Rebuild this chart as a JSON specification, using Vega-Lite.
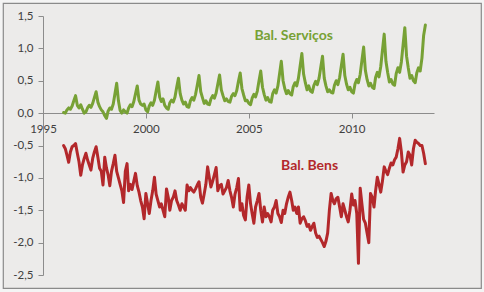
{
  "$schema": "https://vega.github.io/schema/vega-lite/v6.json",
  "width": 478,
  "height": 285,
  "autosize": {"type": "none"},
  "padding": {"left": 3, "top": 3, "right": 3, "bottom": 4},
  "background": "#f4f4f4",
  "config": {
    "view": {"fill": "#ecebea", "stroke": "#8a8a8a", "strokeWidth": 1.2},
    "font": "Lato",
    "axis": {"labelFont": "Lato", "labelFontSize": 11.5, "labelColor": "#404040", "domainColor": "#8c8c8c", "tickColor": "#8c8c8c", "grid": false, "title": null}
  },
  "data": {"values": [
    {"d":"1996-01","s":0.01,"b":-0.5},{"d":"1996-02","s":0.0,"b":-0.55},{"d":"1996-03","s":0.05,"b":-0.65},{"d":"1996-04","s":0.08,"b":-0.76},{"d":"1996-05","s":0.06,"b":-0.6},{"d":"1996-06","s":0.11,"b":-0.52},{"d":"1996-07","s":0.19,"b":-0.5},{"d":"1996-08","s":0.27,"b":-0.47},{"d":"1996-09","s":0.12,"b":-0.62},{"d":"1996-10","s":0.08,"b":-0.75},{"d":"1996-11","s":0.13,"b":-0.96},{"d":"1996-12","s":0.06,"b":-0.8},
    {"d":"1997-01","s":0.0,"b":-0.7},{"d":"1997-02","s":0.02,"b":-0.62},{"d":"1997-03","s":0.08,"b":-0.72},{"d":"1997-04","s":0.12,"b":-0.8},{"d":"1997-05","s":0.09,"b":-0.88},{"d":"1997-06","s":0.15,"b":-0.7},{"d":"1997-07","s":0.24,"b":-0.6},{"d":"1997-08","s":0.33,"b":-0.52},{"d":"1997-09","s":0.17,"b":-0.68},{"d":"1997-10","s":0.1,"b":-0.85},{"d":"1997-11","s":0.05,"b":-0.9},{"d":"1997-12","s":0.02,"b":-1.11},
    {"d":"1998-01","s":-0.04,"b":-0.68},{"d":"1998-02","s":-0.08,"b":-0.85},{"d":"1998-03","s":0.03,"b":-0.95},{"d":"1998-04","s":0.08,"b":-1.12},{"d":"1998-05","s":0.06,"b":-0.9},{"d":"1998-06","s":0.14,"b":-0.78},{"d":"1998-07","s":0.3,"b":-0.65},{"d":"1998-08","s":0.46,"b":-0.9},{"d":"1998-09","s":0.19,"b":-1.0},{"d":"1998-10","s":0.04,"b":-1.1},{"d":"1998-11","s":0.0,"b":-1.2},{"d":"1998-12","s":0.05,"b":-1.38},
    {"d":"1999-01","s":0.02,"b":-0.9},{"d":"1999-02","s":0.0,"b":-0.78},{"d":"1999-03","s":0.08,"b":-1.2},{"d":"1999-04","s":0.13,"b":-1.1},{"d":"1999-05","s":0.1,"b":-1.18},{"d":"1999-06","s":0.18,"b":-1.05},{"d":"1999-07","s":0.3,"b":-0.93},{"d":"1999-08","s":0.42,"b":-1.12},{"d":"1999-09","s":0.2,"b":-1.22},{"d":"1999-10","s":0.14,"b":-1.35},{"d":"1999-11","s":0.12,"b":-1.45},{"d":"1999-12","s":0.14,"b":-1.63},
    {"d":"2000-01","s":0.05,"b":-1.24},{"d":"2000-02","s":0.02,"b":-1.4},{"d":"2000-03","s":0.11,"b":-1.55},{"d":"2000-04","s":0.16,"b":-1.35},{"d":"2000-05","s":0.12,"b":-1.2},{"d":"2000-06","s":0.2,"b":-0.99},{"d":"2000-07","s":0.34,"b":-1.25},{"d":"2000-08","s":0.48,"b":-1.35},{"d":"2000-09","s":0.25,"b":-1.45},{"d":"2000-10","s":0.18,"b":-1.4},{"d":"2000-11","s":0.22,"b":-1.5},{"d":"2000-12","s":0.12,"b":-1.6},
    {"d":"2001-01","s":0.08,"b":-1.17},{"d":"2001-02","s":0.06,"b":-1.3},{"d":"2001-03","s":0.16,"b":-1.5},{"d":"2001-04","s":0.2,"b":-1.35},{"d":"2001-05","s":0.17,"b":-1.3},{"d":"2001-06","s":0.25,"b":-1.2},{"d":"2001-07","s":0.4,"b":-1.35},{"d":"2001-08","s":0.54,"b":-1.42},{"d":"2001-09","s":0.3,"b":-1.5},{"d":"2001-10","s":0.2,"b":-1.4},{"d":"2001-11","s":0.14,"b":-1.45},{"d":"2001-12","s":0.17,"b":-1.5},
    {"d":"2002-01","s":0.1,"b":-1.11},{"d":"2002-02","s":0.09,"b":-1.2},{"d":"2002-03","s":0.19,"b":-1.15},{"d":"2002-04","s":0.24,"b":-1.19},{"d":"2002-05","s":0.2,"b":-1.22},{"d":"2002-06","s":0.29,"b":-1.17},{"d":"2002-07","s":0.43,"b":-1.11},{"d":"2002-08","s":0.58,"b":-1.06},{"d":"2002-09","s":0.33,"b":-1.3},{"d":"2002-10","s":0.24,"b":-1.39},{"d":"2002-11","s":0.15,"b":-1.25},{"d":"2002-12","s":0.19,"b":-1.1},
    {"d":"2003-01","s":0.14,"b":-0.83},{"d":"2003-02","s":0.13,"b":-1.0},{"d":"2003-03","s":0.22,"b":-1.14},{"d":"2003-04","s":0.27,"b":-1.05},{"d":"2003-05","s":0.23,"b":-0.95},{"d":"2003-06","s":0.31,"b":-0.84},{"d":"2003-07","s":0.45,"b":-1.2},{"d":"2003-08","s":0.59,"b":-1.12},{"d":"2003-09","s":0.36,"b":-1.1},{"d":"2003-10","s":0.27,"b":-1.25},{"d":"2003-11","s":0.19,"b":-1.2},{"d":"2003-12","s":0.22,"b":-1.15},
    {"d":"2004-01","s":0.18,"b":-1.04},{"d":"2004-02","s":0.17,"b":-1.2},{"d":"2004-03","s":0.26,"b":-1.3},{"d":"2004-04","s":0.3,"b":-1.45},{"d":"2004-05","s":0.27,"b":-1.25},{"d":"2004-06","s":0.35,"b":-1.15},{"d":"2004-07","s":0.49,"b":-1.01},{"d":"2004-08","s":0.62,"b":-1.5},{"d":"2004-09","s":0.38,"b":-1.4},{"d":"2004-10","s":0.28,"b":-1.58},{"d":"2004-11","s":0.19,"b":-1.65},{"d":"2004-12","s":0.2,"b":-1.3},
    {"d":"2005-01","s":0.15,"b":-1.11},{"d":"2005-02","s":0.13,"b":-1.4},{"d":"2005-03","s":0.23,"b":-1.55},{"d":"2005-04","s":0.29,"b":-1.7},{"d":"2005-05","s":0.25,"b":-1.45},{"d":"2005-06","s":0.34,"b":-1.35},{"d":"2005-07","s":0.5,"b":-1.24},{"d":"2005-08","s":0.65,"b":-1.5},{"d":"2005-09","s":0.4,"b":-1.68},{"d":"2005-10","s":0.29,"b":-1.45},{"d":"2005-11","s":0.2,"b":-1.6},{"d":"2005-12","s":0.24,"b":-1.55},
    {"d":"2006-01","s":0.18,"b":-1.6},{"d":"2006-02","s":0.17,"b":-1.68},{"d":"2006-03","s":0.3,"b":-1.5},{"d":"2006-04","s":0.36,"b":-1.45},{"d":"2006-05","s":0.31,"b":-1.35},{"d":"2006-06","s":0.42,"b":-1.55},{"d":"2006-07","s":0.61,"b":-1.6},{"d":"2006-08","s":0.8,"b":-1.69},{"d":"2006-09","s":0.5,"b":-1.5},{"d":"2006-10","s":0.38,"b":-1.55},{"d":"2006-11","s":0.3,"b":-1.4},{"d":"2006-12","s":0.35,"b":-1.3},
    {"d":"2007-01","s":0.3,"b":-1.22},{"d":"2007-02","s":0.28,"b":-1.35},{"d":"2007-03","s":0.41,"b":-1.5},{"d":"2007-04","s":0.47,"b":-1.45},{"d":"2007-05","s":0.42,"b":-1.55},{"d":"2007-06","s":0.54,"b":-1.45},{"d":"2007-07","s":0.73,"b":-1.7},{"d":"2007-08","s":0.92,"b":-1.63},{"d":"2007-09","s":0.6,"b":-1.6},{"d":"2007-10","s":0.47,"b":-1.66},{"d":"2007-11","s":0.36,"b":-1.75},{"d":"2007-12","s":0.42,"b":-1.72},
    {"d":"2008-01","s":0.34,"b":-1.81},{"d":"2008-02","s":0.32,"b":-1.75},{"d":"2008-03","s":0.43,"b":-1.7},{"d":"2008-04","s":0.49,"b":-1.85},{"d":"2008-05","s":0.44,"b":-1.92},{"d":"2008-06","s":0.54,"b":-1.9},{"d":"2008-07","s":0.71,"b":-1.95},{"d":"2008-08","s":0.88,"b":-2.0},{"d":"2008-09","s":0.54,"b":-2.06},{"d":"2008-10","s":0.42,"b":-1.98},{"d":"2008-11","s":0.33,"b":-1.85},{"d":"2008-12","s":0.36,"b":-1.5},
    {"d":"2009-01","s":0.32,"b":-1.24},{"d":"2009-02","s":0.31,"b":-1.35},{"d":"2009-03","s":0.43,"b":-1.4},{"d":"2009-04","s":0.5,"b":-1.32},{"d":"2009-05","s":0.44,"b":-1.3},{"d":"2009-06","s":0.55,"b":-1.45},{"d":"2009-07","s":0.73,"b":-1.6},{"d":"2009-08","s":0.91,"b":-1.4},{"d":"2009-09","s":0.58,"b":-1.5},{"d":"2009-10","s":0.45,"b":-1.6},{"d":"2009-11","s":0.36,"b":-1.68},{"d":"2009-12","s":0.4,"b":-1.5},
    {"d":"2010-01","s":0.33,"b":-1.25},{"d":"2010-02","s":0.31,"b":-1.42},{"d":"2010-03","s":0.45,"b":-1.35},{"d":"2010-04","s":0.52,"b":-1.55},{"d":"2010-05","s":0.47,"b":-2.32},{"d":"2010-06","s":0.6,"b":-1.16},{"d":"2010-07","s":0.81,"b":-1.4},{"d":"2010-08","s":1.02,"b":-1.64},{"d":"2010-09","s":0.66,"b":-1.7},{"d":"2010-10","s":0.52,"b":-1.85},{"d":"2010-11","s":0.42,"b":-2.0},{"d":"2010-12","s":0.46,"b":-1.24},
    {"d":"2011-01","s":0.4,"b":-1.3},{"d":"2011-02","s":0.38,"b":-1.45},{"d":"2011-03","s":0.55,"b":-1.2},{"d":"2011-04","s":0.63,"b":-0.99},{"d":"2011-05","s":0.56,"b":-1.1},{"d":"2011-06","s":0.72,"b":-1.22},{"d":"2011-07","s":0.97,"b":-1.05},{"d":"2011-08","s":1.22,"b":-0.83},{"d":"2011-09","s":0.8,"b":-0.9},{"d":"2011-10","s":0.63,"b":-0.95},{"d":"2011-11","s":0.48,"b":-0.85},{"d":"2011-12","s":0.52,"b":-0.77},
    {"d":"2012-01","s":0.45,"b":-0.8},{"d":"2012-02","s":0.43,"b":-0.72},{"d":"2012-03","s":0.61,"b":-0.68},{"d":"2012-04","s":0.7,"b":-0.55},{"d":"2012-05","s":0.63,"b":-0.39},{"d":"2012-06","s":0.79,"b":-0.6},{"d":"2012-07","s":1.05,"b":-0.91},{"d":"2012-08","s":1.32,"b":-0.8},{"d":"2012-09","s":0.88,"b":-0.75},{"d":"2012-10","s":0.7,"b":-0.6},{"d":"2012-11","s":0.54,"b":-0.65},{"d":"2012-12","s":0.58,"b":-0.8},
    {"d":"2013-01","s":0.5,"b":-0.55},{"d":"2013-02","s":0.47,"b":-0.42},{"d":"2013-03","s":0.62,"b":-0.45},{"d":"2013-04","s":0.7,"b":-0.47},{"d":"2013-05","s":0.65,"b":-0.5},{"d":"2013-06","s":0.85,"b":-0.5},{"d":"2013-07","s":1.2,"b":-0.62},{"d":"2013-08","s":1.36,"b":-0.78}
  ]},
  "layer": [
    {
      "transform": [{"fold": ["s", "b"], "as": ["k", "v"]}],
      "mark": {"type": "line", "strokeWidth": 3, "strokeJoin": "round", "strokeCap": "round"},
      "encoding": {
        "x": {
          "field": "d", "type": "temporal",
          "scale": {"type": "utc", "domain": [{"year": 1995, "utc": true}, {"year": 2014, "utc": true}], "range": [40, 431]},
          "axis": {
            "values": [{"year": 1995, "utc": true}, {"year": 2000, "utc": true}, {"year": 2005, "utc": true}, {"year": 2010, "utc": true}],
            "labelExpr": "utcFormat(datum.value, '%Y')",
            "offset": -175, "tickSize": 5, "labelPadding": 5, "labelAngle": 0, "labelFlush": false, "labelOverlap": false
          }
        },
        "y": {
          "field": "v", "type": "quantitative",
          "scale": {"domain": [-2.5, 1.5], "range": [272, 13], "nice": false, "zero": false},
          "axis": {
            "tickCount": 8,
            "labelExpr": "replace(replace(format(datum.value, '.1f'), '.', ','), '\u2212', '-')",
            "offset": -40, "tickSize": 5, "labelPadding": 5, "labelOverlap": false, "labelFlush": false
          }
        },
        "color": {"field": "k", "type": "nominal", "scale": {"domain": ["s", "b"], "range": ["#77a135", "#b3282b"]}, "legend": null},
        "detail": {"field": "k"}
      }
    },
    {
      "data": {"values": [{}]},
      "mark": {"type": "text", "font": "Lato", "fontWeight": "bold", "fontSize": 14, "color": "#77a135", "align": "center", "baseline": "middle"},
      "encoding": {
        "x": {"datum": {"year": 2007, "month": 3, "date": 8, "utc": true}, "type": "temporal"},
        "y": {"datum": 1.19, "type": "quantitative"},
        "text": {"value": "Bal. Serviços"}
      }
    },
    {
      "data": {"values": [{}]},
      "mark": {"type": "text", "font": "Lato", "fontWeight": "bold", "fontSize": 14, "color": "#b3282b", "align": "center", "baseline": "middle"},
      "encoding": {
        "x": {"datum": {"year": 2007, "month": 12, "date": 16, "utc": true}, "type": "temporal"},
        "y": {"datum": -0.82, "type": "quantitative"},
        "text": {"value": "Bal. Bens"}
      }
    }
  ]
}
